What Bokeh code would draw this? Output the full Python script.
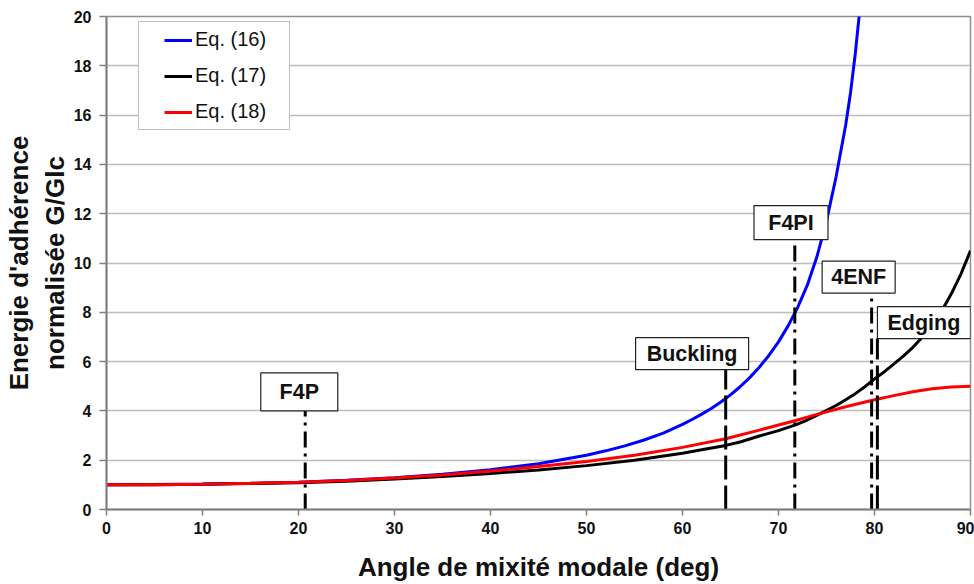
from bokeh.plotting import figure
from bokeh.models import Legend, LegendItem, Range1d, FixedTicker
from bokeh.core.properties import value
from bokeh.embed import file_html
from bokeh.resources import INLINE

FONT = "Liberation Sans"

# ---- data ----
angle_eq16 = [0, 5, 10, 15, 20, 25, 30, 35, 40, 45, 50, 52, 54, 56, 58, 60, 61, 62, 63, 64,
              65, 66, 67, 68, 69, 70, 71, 72, 73, 74, 75, 76, 77, 77.5, 78, 78.5, 79]
g_eq16 = [1.00, 1.01, 1.03, 1.06, 1.11, 1.19, 1.29, 1.43, 1.61, 1.86, 2.20, 2.38, 2.58, 2.82,
          3.10, 3.45, 3.65, 3.87, 4.10, 4.36, 4.65, 4.98, 5.35, 5.77, 6.25, 6.80, 7.45, 8.20,
          9.10, 10.25, 11.7, 13.5, 15.6, 16.9, 18.5, 20.4, 22.6]

angle_eq17 = [0, 5, 10, 15, 20, 25, 30, 35, 40, 45, 50, 55, 60, 62, 64.5, 66, 68, 70, 71.7,
              73, 74.4, 76, 77, 78, 79, 80, 81, 82, 83, 84, 85, 86, 87, 88, 89, 90]
g_eq17 = [1.00, 1.005, 1.02, 1.05, 1.09, 1.15, 1.24, 1.34, 1.46, 1.60, 1.78, 2.00, 2.28,
          2.42, 2.60, 2.74, 2.98, 3.20, 3.42, 3.63, 3.90, 4.22, 4.45, 4.70, 4.98, 5.30, 5.58,
          5.90, 6.22, 6.58, 7.00, 7.48, 8.05, 8.75, 9.55, 10.5]

angle_eq18 = [0, 5, 10, 15, 20, 25, 30, 35, 40, 45, 50, 55, 60, 64.5, 68, 71.7, 74.4, 77,
              80, 82, 84, 86, 88, 90]
g_eq18 = [1.00, 1.005, 1.025, 1.06, 1.11, 1.18, 1.28, 1.40, 1.56, 1.74, 1.95, 2.20, 2.52,
          2.87, 3.22, 3.60, 3.90, 4.17, 4.45, 4.62, 4.78, 4.90, 4.97, 5.00]

series_labels = ["Eq. (16)", "Eq. (17)", "Eq. (18)"]
series_colors = ["#0000ff", "#000000", "#ff0000"]

mode_names = ["F4P", "Buckling", "F4PI", "4ENF", "Edging"]
mode_angles = [20.7, 64.5, 71.7, 79.7, 80.3]

x_ticks = [0, 10, 20, 30, 40, 50, 60, 70, 80, 90]
y_ticks = [0, 2, 4, 6, 8, 10, 12, 14, 16, 18, 20]

# ---- layout / style (annotation placement) ----
mode_dash = ["16 6 3 6", "24 6", "16 6 3 6", "16 6 3 6", "24 6"]
mode_top = [4.0, 5.67, 10.95, 8.8, 6.94]
box_x = [20.08, 61.0, 71.3, 78.35, 85.15]
box_y = [4.77, 6.32, 11.64, 9.43, 7.58]
box_w = [77, 113, 74, 73, 93]
box_h = [38, 32, 34, 32, 32]

p = figure(width=974, height=584,
           x_range=Range1d(0, 90), y_range=Range1d(0, 20),
           output_backend="svg", toolbar_location=None,
           min_border_left=105, min_border_right=4, min_border_top=16, min_border_bottom=73,
           background_fill_color="white", border_fill_color="white")

p.outline_line_color = "#909090"
p.outline_line_width = 1.5
p.xgrid.visible = False
p.ygrid.grid_line_color = "#bdbdbd"
p.ygrid.grid_line_width = 1.5

# axes
p.xaxis.ticker = FixedTicker(ticks=x_ticks)
p.yaxis.ticker = FixedTicker(ticks=y_ticks)
for ax in (p.xaxis[0], p.yaxis[0]):
    ax.axis_line_color = "#808080"
    ax.axis_line_width = 2
    ax.major_tick_line_color = "#808080"
    ax.major_tick_line_width = 1.5
    ax.major_tick_in = 0
    ax.minor_tick_line_color = None
    ax.major_label_text_font = FONT
    ax.major_label_text_font_style = "bold"
    ax.major_label_text_font_size = "16px"
    ax.major_label_text_color = "#111111"
    ax.axis_label_text_font = FONT
    ax.axis_label_text_font_style = "bold"
    ax.axis_label_text_color = "#111111"

p.xaxis.major_tick_out = 6
p.xaxis.major_label_standoff = 6
p.xaxis.axis_label = "Angle de mixité modale (deg)"
p.xaxis.axis_label_text_font_size = "26px"
p.xaxis.axis_label_standoff = 15

p.yaxis.major_tick_out = 7
p.yaxis.major_label_standoff = 8
p.yaxis.axis_label = "Energie d'adhérence\nnormalisée G/Glc"
p.yaxis.axis_label_text_font_size = "26px"
p.yaxis.axis_label_standoff = 1

# curves
r16 = p.line(angle_eq16, g_eq16, line_color=series_colors[0], line_width=3)
r17 = p.line(angle_eq17, g_eq17, line_color=series_colors[1], line_width=3)
r18 = p.line(angle_eq18, g_eq18, line_color=series_colors[2], line_width=3)

# vertical mode lines
for a, t, d in zip(mode_angles, mode_top, mode_dash):
    p.segment(x0=[a], y0=[0], x1=[a], y1=[t], line_color="black", line_width=3, line_dash=d)

# label boxes
p.rect(x=box_x, y=box_y, width=box_w, height=box_h, width_units="screen",
       height_units="screen", fill_color="white", line_color="#222222", line_width=1.2)
p.text(x=box_x, y=box_y, text=mode_names, text_align="center", text_baseline="middle",
       text_font=value(FONT), text_font_style="bold", text_font_size="21.5px",
       text_color="#111111")

legend = Legend(items=[LegendItem(label=series_labels[0], renderers=[r16]),
                       LegendItem(label=series_labels[1], renderers=[r17]),
                       LegendItem(label=series_labels[2], renderers=[r18])],
                location=(32, 379))
legend.label_text_font = FONT
legend.label_text_font_size = "20px"
legend.label_text_color = "#111111"
legend.glyph_width = 28
legend.glyph_height = 20
legend.label_height = 20
legend.label_standoff = 3
legend.spacing = 13
legend.border_line_color = "#808080"
legend.border_line_width = 1
legend.background_fill_color = "white"
legend.background_fill_alpha = 1
try:
    legend.padding = dict(left=25, right=23, top=6, bottom=6)
except Exception:
    try:
        legend.padding = (25, 23, 6, 6)
    except Exception:
        legend.padding = 8
p.add_layout(legend)

open("out.html", "w").write(file_html(p, INLINE))
